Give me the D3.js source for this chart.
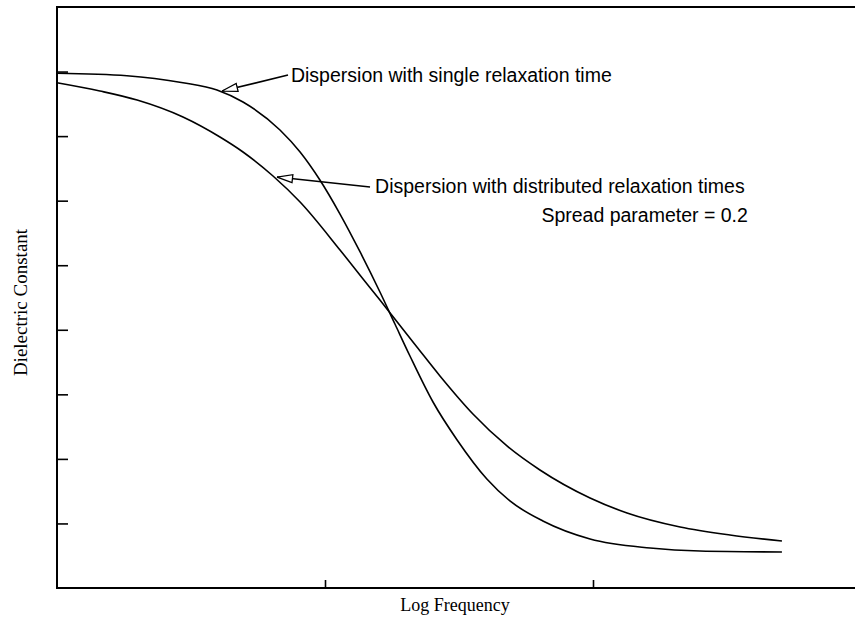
<!DOCTYPE html>
<html>
<head>
<meta charset="utf-8">
<script src="https://cdn.jsdelivr.net/npm/d3@7/dist/d3.min.js"></script>
<style>
  html, body { margin: 0; padding: 0; background: #fff; }
  svg { display: block; }
</style>
</head>
<body>
<svg id="chart" width="855" height="621"></svg>
<script>
// ---- data (log frequency units, dielectric constant units) ----
const singleX = [0, 0.261, 0.470, 0.597, 0.694, 0.832, 0.907, 0.981, 1.056, 1.131, 1.205, 1.261, 1.317, 1.403, 1.493, 1.604, 1.690, 1.813, 1.989, 2.213, 2.399, 2.705];
const singleY = [7.973, 7.936, 7.827, 7.714, 7.528, 7.095, 6.754, 6.320, 5.793, 5.205, 4.585, 4.089, 3.594, 2.881, 2.293, 1.688, 1.348, 1.038, 0.759, 0.620, 0.573, 0.558];

const distX = [0, 0.160, 0.299, 0.470, 0.608, 0.694, 0.806, 0.907, 1.056, 1.142, 1.205, 1.243, 1.343, 1.429, 1.552, 1.679, 1.802, 1.989, 2.127, 2.325, 2.511, 2.705];
const distY = [7.827, 7.699, 7.559, 7.296, 6.986, 6.754, 6.382, 5.979, 5.236, 4.787, 4.461, 4.260, 3.733, 3.284, 2.695, 2.200, 1.828, 1.394, 1.162, 0.945, 0.821, 0.728];

const xTicks = [1, 2];
const yTicks = [1, 2, 3, 4, 5, 6, 7, 8];

const labels = ["Dispersion with single relaxation time", "Dispersion with distributed relaxation times", "Spread parameter = 0.2"];
const xTitle = "Log Frequency";
const yTitle = "Dielectric Constant";

// annotation anchors in data units
const arrowSingle = { from: [0.862, 7.946], to: [0.616, 7.698] };
const arrowDist   = { from: [1.168, 6.211], to: [0.821, 6.366] };
const labelPos = [[0.873, 7.838], [1.187, 6.118], [2.578, 5.669]];

// ---- layout ----
const svg = d3.select("#chart");
const mLeft = 57, mTop = 7, mBottom = 588, mRight = 861;

const x = d3.scaleLinear().domain([0, 3]).range([mLeft, mRight]);
const y = d3.scaleLinear().domain([0, 9]).range([mBottom, mTop]);

// frame
svg.append("rect")
  .attr("x", mLeft).attr("y", mTop)
  .attr("width", mRight - mLeft).attr("height", mBottom - mTop)
  .attr("fill", "none").attr("stroke", "#000").attr("stroke-width", 2);

// axes (inward ticks, no labels)
svg.append("g")
  .attr("transform", `translate(0,${mBottom})`)
  .call(d3.axisTop(x).tickValues(xTicks).tickSize(8).tickFormat(""))
  .call(g => g.select(".domain").remove())
  .call(g => g.selectAll("line").attr("stroke", "#000").attr("stroke-width", 1.6));

svg.append("g")
  .attr("transform", `translate(${mLeft},0)`)
  .call(d3.axisRight(y).tickValues(yTicks).tickSize(11).tickFormat(""))
  .call(g => g.select(".domain").remove())
  .call(g => g.selectAll("line").attr("stroke", "#000").attr("stroke-width", 1.6));

// curves
const line = d3.line().x(d => x(d[0])).y(d => y(d[1])).curve(d3.curveMonotoneX);
const singleData = singleX.map((v, i) => [v, singleY[i]]);
const distData = distX.map((v, i) => [v, distY[i]]);

svg.append("path").datum(singleData).attr("d", line)
  .attr("fill", "none").attr("stroke", "#000").attr("stroke-width", 1.6);
svg.append("path").datum(distData).attr("d", line)
  .attr("fill", "none").attr("stroke", "#000").attr("stroke-width", 1.6);

// arrows with open triangular heads
svg.append("defs").append("marker")
  .attr("id", "openArrow")
  .attr("viewBox", "0 0 17 10")
  .attr("refX", 16.5).attr("refY", 5)
  .attr("markerWidth", 17).attr("markerHeight", 10)
  .attr("markerUnits", "userSpaceOnUse")
  .attr("orient", "auto")
  .append("path")
  .attr("d", "M1,1 L16.5,5 L1,9 Z")
  .attr("fill", "#fff").attr("stroke", "#000").attr("stroke-width", 1.3);

[arrowSingle, arrowDist].forEach(a => {
  svg.append("line")
    .attr("x1", x(a.from[0])).attr("y1", y(a.from[1]))
    .attr("x2", x(a.to[0])).attr("y2", y(a.to[1]))
    .attr("stroke", "#000").attr("stroke-width", 1.6)
    .attr("marker-end", "url(#openArrow)");
});

// annotation labels
svg.selectAll("text.ann").data(labels).enter().append("text")
  .attr("class", "ann")
  .attr("x", (d, i) => x(labelPos[i][0]))
  .attr("y", (d, i) => y(labelPos[i][1]))
  .attr("text-anchor", (d, i) => i === 2 ? "end" : "start")
  .attr("font-family", "'Liberation Sans', Arial, sans-serif")
  .attr("font-size", 19.5)
  .attr("fill", "#000")
  .text(d => d);

// axis titles
svg.append("text")
  .attr("x", (mLeft + mRight) / 2 - 4).attr("y", 611)
  .attr("text-anchor", "middle")
  .attr("font-family", "'Liberation Serif', 'Times New Roman', serif")
  .attr("font-size", 18)
  .text(xTitle);

svg.append("text")
  .attr("transform", `translate(27,${(mTop + mBottom) / 2 + 5}) rotate(-90)`)
  .attr("text-anchor", "middle")
  .attr("font-family", "'Liberation Serif', 'Times New Roman', serif")
  .attr("font-size", 19)
  .text(yTitle);
</script>
</body>
</html>
